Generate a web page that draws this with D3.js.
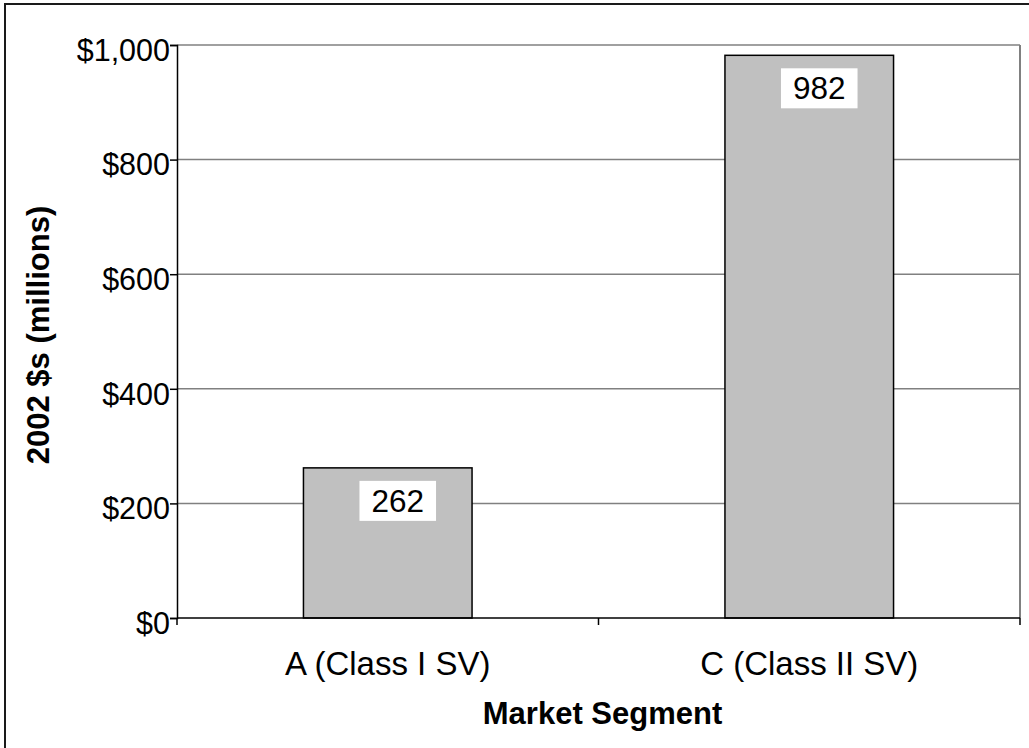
<!DOCTYPE html>
<html>
<head>
<meta charset="utf-8">
<script src="https://cdn.jsdelivr.net/npm/d3@7"></script>
<style>
  html, body { margin: 0; padding: 0; background: #fff; }
  svg { display: block; font-family: "Liberation Sans", Arial, sans-serif; }
</style>
</head>
<body>
<svg id="chart" width="1029" height="748"></svg>
<script>
// Market value by segment, 2002 dollars (millions)
const categories = ["A (Class I SV)", "C (Class II SV)"];
const values = [262, 982];
const yTicks = [0, 200, 400, 600, 800, 1000];
const yTitle = "2002 $s (millions)";
const xTitle = "Market Segment";

const svg = d3.select("#chart");
const plot = { left: 177, right: 1020, top: 45, bottom: 618 };

const y = d3.scaleLinear().domain([0, 1000]).range([plot.bottom, plot.top]);
const x = d3.scaleBand().domain(categories).range([plot.left, plot.right])
  .paddingInner(0.6).paddingOuter(0.3);

// outer frame
svg.append("rect")
  .attr("x", 5).attr("y", 4).attr("width", 1040).attr("height", 760)
  .attr("fill", "none").attr("stroke", "#1a1a1a").attr("stroke-width", 2);

// gridlines
svg.append("g").selectAll("line")
  .data(yTicks.filter(d => d > 0))
  .join("line")
  .attr("x1", plot.left).attr("x2", plot.right)
  .attr("y1", d => y(d)).attr("y2", d => y(d))
  .attr("stroke", "#808080").attr("stroke-width", 1.5);

// plot area right edge
svg.append("line")
  .attr("x1", plot.right).attr("x2", plot.right)
  .attr("y1", plot.top).attr("y2", plot.bottom)
  .attr("stroke", "#808080").attr("stroke-width", 2);

// bars
svg.append("g").selectAll("rect")
  .data(values)
  .join("rect")
  .attr("x", (d, i) => x(categories[i]))
  .attr("y", d => y(d))
  .attr("width", x.bandwidth())
  .attr("height", d => y(0) - y(d))
  .attr("fill", "#c0c0c0")
  .attr("stroke", "#000").attr("stroke-width", 1.5);

// y axis
const yAxis = d3.axisLeft(y).tickValues(yTicks).tickSize(7).tickPadding(0)
  .tickFormat(d => "$" + d3.format(",")(d));
const gy = svg.append("g").attr("transform", `translate(${plot.left},0)`).call(yAxis);
gy.select(".domain").attr("stroke", "#000").attr("stroke-width", 1.5);
gy.selectAll(".tick line").attr("stroke", "#000").attr("stroke-width", 1.5);
gy.selectAll(".tick text")
  .attr("font-size", 30.5).attr("fill", "#000")
  .attr("font-family", "'Liberation Sans', Arial, sans-serif")
  .attr("dy", "0.5em");

// x axis line with category boundary ticks
svg.append("line")
  .attr("x1", plot.left).attr("x2", plot.right)
  .attr("y1", plot.bottom).attr("y2", plot.bottom)
  .attr("stroke", "#000").attr("stroke-width", 1.5);
const bounds = d3.range(categories.length + 1)
  .map(i => plot.left + i * (plot.right - plot.left) / categories.length);
svg.append("g").selectAll("line")
  .data(bounds)
  .join("line")
  .attr("x1", d => d).attr("x2", d => d)
  .attr("y1", plot.bottom).attr("y2", plot.bottom + 7)
  .attr("stroke", "#000").attr("stroke-width", 1.5);

// category labels
svg.append("g").selectAll("text")
  .data(categories)
  .join("text")
  .attr("x", d => x(d) + x.bandwidth() / 2)
  .attr("y", 675)
  .attr("text-anchor", "middle")
  .attr("font-size", 33)
  .text(d => d);

// value labels on white boxes
const lab = svg.append("g").selectAll("g")
  .data(values)
  .join("g");
lab.each(function (d, i) {
  const g = d3.select(this);
  const cx = x(categories[i]) + x.bandwidth() / 2 + 10;
  const t = g.append("text")
    .attr("x", cx).attr("y", y(d) + 13 + 31)
    .attr("text-anchor", "middle")
    .attr("font-size", 31.5)
    .text(d3.format("d")(d));
  const bb = t.node().getBBox();
  g.insert("rect", "text")
    .attr("x", bb.x - 12).attr("y", y(d) + 13)
    .attr("width", bb.width + 24).attr("height", 40)
    .attr("fill", "#fff");
});

// axis titles
svg.append("text")
  .attr("x", (plot.left + plot.right) / 2 + 4).attr("y", 724)
  .attr("text-anchor", "middle")
  .attr("font-size", 31).attr("font-weight", "bold")
  .text(xTitle);

svg.append("text")
  .attr("transform", "translate(49,335) rotate(-90)")
  .attr("text-anchor", "middle")
  .attr("font-size", 31).attr("font-weight", "bold")
  .text(yTitle);
</script>
</body>
</html>
